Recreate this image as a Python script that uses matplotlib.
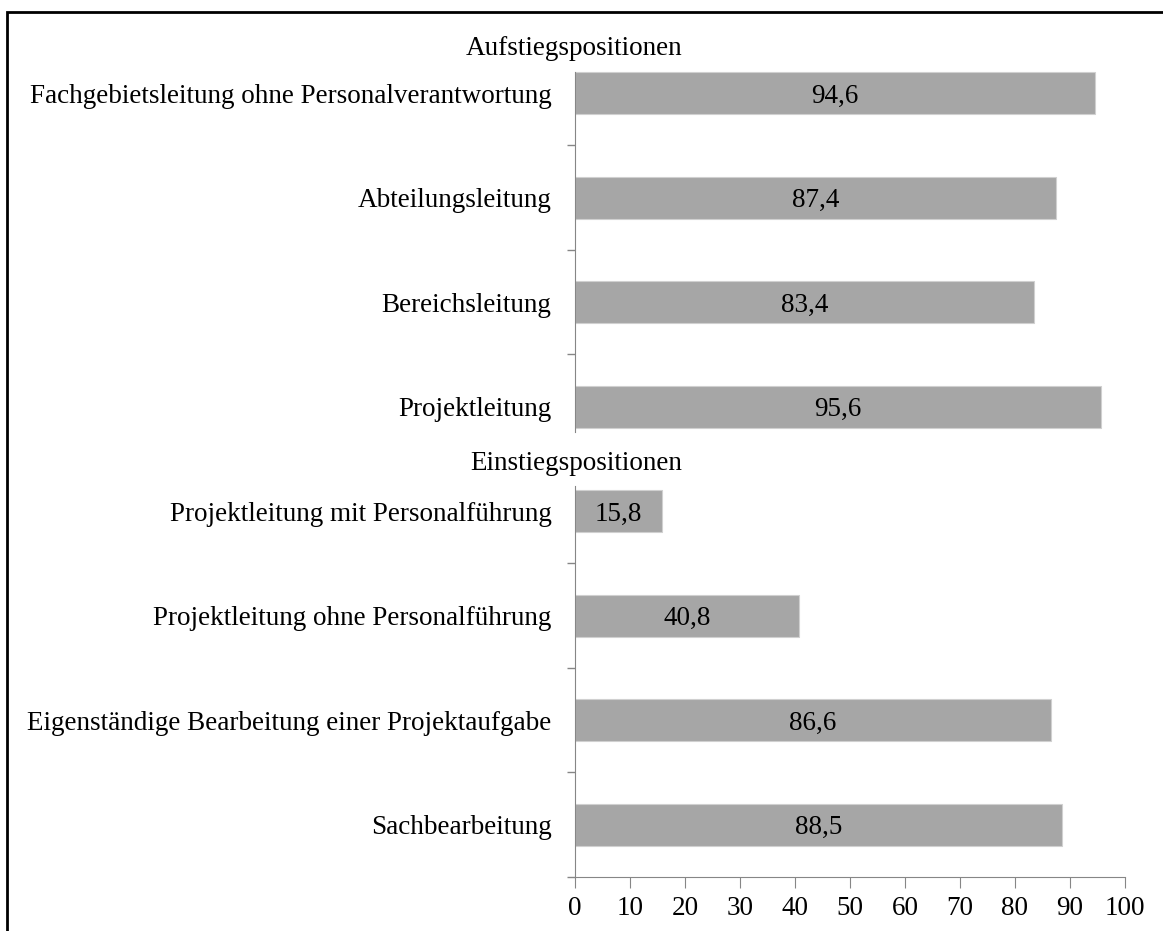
import matplotlib.pyplot as plt
from matplotlib.patches import Rectangle

plt.rcParams['font.family'] = ['Liberation Serif', 'DejaVu Serif']

# Daten
gruppe_oben = 'Aufstiegspositionen'
kat_oben = ['Fachgebietsleitung ohne Personalverantwortung', 'Abteilungsleitung',
            'Bereichsleitung', 'Projektleitung']
werte_oben = [94.6, 87.4, 83.4, 95.6]

gruppe_unten = 'Einstiegspositionen'
kat_unten = ['Projektleitung mit Personalführung', 'Projektleitung ohne Personalführung',
             'Eigenständige Bearbeitung einer Projektaufgabe', 'Sachbearbeitung']
werte_unten = [15.8, 40.8, 86.6, 88.5]

x_ticks = list(range(0, 101, 10))

fs = 19.5
bar_color = '#a6a6a6'
axis_color = '#868686'

fig = plt.figure(figsize=(11.63, 9.31), dpi=100)
ax1 = fig.add_axes([0.4944, 0.507, 0.4729, 0.449])
ax2 = fig.add_axes([0.4944, 0.058, 0.4729, 0.449])


def zeichne(ax, kat, werte, spine_lo, spine_hi, unten):
    pos = list(range(len(kat)))
    ax.barh(pos, werte, height=0.4, color=bar_color, edgecolor='#d0d0d0', linewidth=0.8)
    for p, w in zip(pos, werte):
        ax.text(w / 2, p, f'{w:.1f}'.replace('.', ','), ha='center', va='center_baseline',
                fontsize=fs)
    ax.set_ylim(len(kat) - 0.5, -0.5)
    ax.set_xlim(0, 100)
    for s in ['top', 'right']:
        ax.spines[s].set_visible(False)
    ax.spines['left'].set_color(axis_color)
    ax.spines['left'].set_bounds(spine_lo, spine_hi)
    # Kategorienbeschriftung mittig, Striche zwischen Kategorien
    ax.set_yticks(pos, minor=True)
    ax.set_yticklabels(kat, minor=True)
    ax.tick_params(axis='y', which='minor', length=0, pad=17, labelsize=fs)
    grenzen = [p + 0.5 for p in pos[:-1]]
    if unten:
        grenzen.append(len(kat) - 0.5)
    ax.set_yticks(grenzen)
    ax.set_yticklabels([])
    ax.tick_params(axis='y', which='major', length=6, color=axis_color, width=1)
    if unten:
        ax.spines['bottom'].set_color(axis_color)
        ax.set_xticks(x_ticks)
        ax.set_xticklabels([str(t) for t in x_ticks])
        ax.tick_params(axis='x', direction='out', length=8, color=axis_color, pad=6,
                       labelsize=fs)
    else:
        ax.spines['bottom'].set_visible(False)
        ax.set_xticks([])


zeichne(ax1, kat_oben, werte_oben, -0.2, 3.24, False)
zeichne(ax2, kat_unten, werte_unten, -0.24, 3.5, True)

fig.text(574 / 1163, 1 - 55 / 931, gruppe_oben, ha='center', va='baseline', fontsize=fs)
fig.text(576 / 1163, 1 - 470 / 931, gruppe_unten, ha='center', va='baseline', fontsize=fs)

# Rahmen
fig.add_artist(Rectangle((7 / 1163, -0.2), 1.2, 1.2 - 12 / 931, transform=fig.transFigure,
                         fill=False, edgecolor='black', linewidth=2))

fig.savefig('out.png', dpi=100)
